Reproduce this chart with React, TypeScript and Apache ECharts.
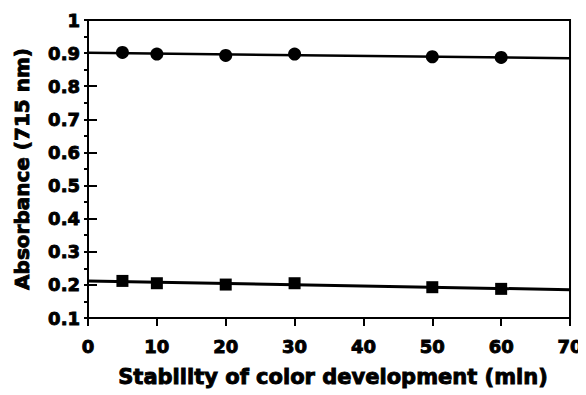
import React, { useEffect, useRef } from "react";
import * as echarts from "echarts";

const times = [5, 10, 20, 30, 50, 60];
const circleValues = [0.902, 0.897, 0.893, 0.897, 0.889, 0.887];
const squareValues = [0.212, 0.205, 0.201, 0.205, 0.193, 0.188];
const xTicks = [0, 10, 20, 30, 40, 50, 60, 70];
const yTickLabels = ["0.1", "0.2", "0.3", "0.4", "0.5", "0.6", "0.7", "0.8", "0.9", "1"];

function fit(xs: number[], ys: number[]) {
  const n = xs.length;
  const mx = xs.reduce((a, b) => a + b, 0) / n;
  const my = ys.reduce((a, b) => a + b, 0) / n;
  let sxy = 0, sxx = 0;
  for (let i = 0; i < n; i++) {
    sxy += (xs[i] - mx) * (ys[i] - my);
    sxx += (xs[i] - mx) * (xs[i] - mx);
  }
  const slope = sxy / sxx;
  const intercept = my - slope * mx;
  const x0 = xTicks[0];
  const x1 = xTicks[xTicks.length - 1];
  return [[x0, intercept + slope * x0], [x1, intercept + slope * x1]];
}

const INK = "#000";
const FONT = "DejaVu Sans";

const heavy = {
  fontFamily: FONT,
  fontWeight: "bold",
  color: INK,
  textBorderColor: INK,
  textBorderWidth: 0.9,
};

export default function App() {
  const ref = useRef<HTMLDivElement>(null);
  useEffect(() => {
    if (!ref.current) return;
    const chart = echarts.init(ref.current, null, { renderer: "svg" });
    chart.setOption({
      animation: false,
      backgroundColor: "#fff",
      grid: {
        left: 88,
        right: 15,
        top: 20,
        bottom: 77,
        show: true,
        borderColor: INK,
        borderWidth: 2,
      },
      xAxis: {
        type: "value",
        min: xTicks[0],
        max: xTicks[xTicks.length - 1],
        interval: 10,
        name: "Stability of color development (min)",
        nameLocation: "middle",
        nameGap: 48,
        nameTextStyle: {
          ...heavy,
          fontSize: 21,
          padding: [0, 0, 0, 8],
        },
        axisLine: { show: true, onZero: false, lineStyle: { color: INK, width: 2 } },
        axisTick: { show: true, inside: false, length: 8, lineStyle: { color: INK, width: 2 } },
        axisLabel: {
          ...heavy,
          margin: 19,
          fontSize: 18,
        },
        splitLine: { show: false },
      },
      yAxis: [
        {
          type: "value",
          min: 0.1,
          max: 1,
          interval: 0.1,
          name: "Absorbance (715 nm)",
          nameLocation: "middle",
          nameGap: 56,
          nameRotate: 90,
          nameTextStyle: {
            ...heavy,
            fontSize: 20,
          },
          axisLine: { show: true, onZero: false, lineStyle: { color: INK, width: 2 } },
          axisTick: { show: true, inside: true, length: 9, lineStyle: { color: INK, width: 2 } },
          axisLabel: {
            ...heavy,
            margin: 8,
            fontSize: 18,
            formatter: (v: number) => {
              const idx = Math.round(v * 10) - 1;
              return yTickLabels[idx] ?? "";
            },
          },
          splitLine: { show: false },
        },
        {
          type: "value",
          min: 0.1,
          max: 1,
          interval: 0.05,
          position: "left",
          axisLine: { show: false },
          axisTick: { show: true, inside: false, length: 4, lineStyle: { color: INK, width: 2 } },
          axisLabel: { show: false },
          splitLine: { show: false },
        },
      ],
      series: [
        {
          type: "line",
          data: fit(times, circleValues),
          symbol: "none",
          lineStyle: { color: INK, width: 2.5 },
          z: 2,
        },
        {
          type: "line",
          data: fit(times, squareValues),
          symbol: "none",
          lineStyle: { color: INK, width: 3 },
          z: 2,
        },
        {
          type: "scatter",
          data: times.map((t, i) => [t, circleValues[i]]),
          symbol: "circle",
          symbolSize: 13,
          itemStyle: { color: INK, opacity: 1 },
          z: 3,
        },
        {
          type: "scatter",
          data: times.map((t, i) => [t, squareValues[i]]),
          symbol: "rect",
          symbolSize: 12,
          itemStyle: { color: INK, opacity: 1 },
          z: 3,
        },
      ],
    });
    return () => chart.dispose();
  }, []);
  return <div ref={ref} style={{ width: 586, height: 395, marginLeft: -8, marginTop: -8 }} />;
}
